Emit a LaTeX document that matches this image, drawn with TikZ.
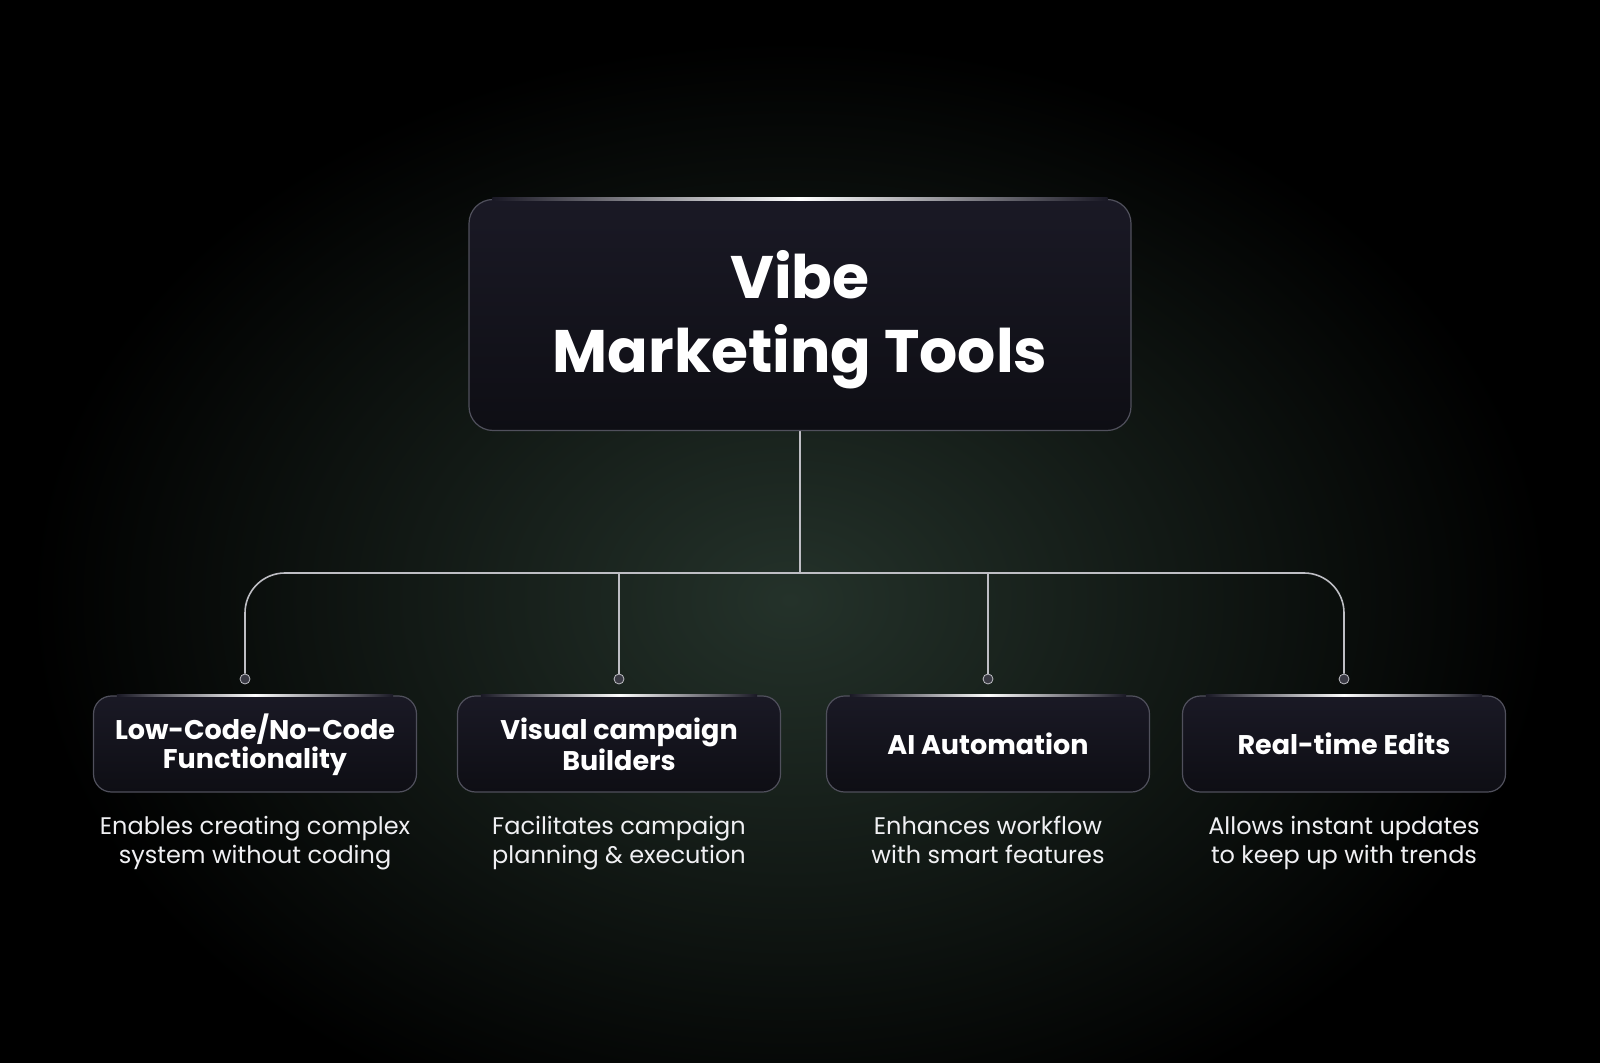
\documentclass[tikz,border=0pt]{standalone}
\usepackage{fontspec}
\setmainfont{Poppins}
\definecolor{glow}{RGB}{36,50,42}
\definecolor{boxtop}{RGB}{26,25,37}
\definecolor{boxbot}{RGB}{14,14,20}
\definecolor{edge}{RGB}{80,80,92}
\definecolor{wire}{RGB}{190,190,196}
\definecolor{desc}{RGB}{240,240,243}
\definecolor{pinfill}{RGB}{58,58,68}
\tikzset{
  card/.style={rounded corners=9pt, top color=boxtop, bottom color=boxbot, draw=edge, line width=0.6pt,
    text=white, align=center, font=\bfseries\fontsize{13.5}{14.5}\selectfont, text depth=0pt,
    minimum width=161.5pt, minimum height=48pt, inner sep=0pt},
  bigcard/.style={card, minimum width=331pt, minimum height=115.5pt, rounded corners=12pt,
    text depth=4pt, font=\bfseries\fontsize{30}{37}\selectfont},
  note/.style={text=desc, align=center, font=\fontsize{12}{14.5}\selectfont, text depth=3pt},
  wire/.style={draw=wire, line width=0.8pt},
  pin/.style={circle, fill=pinfill, draw=wire, line width=0.4pt, minimum size=5pt, inner sep=0pt},
  shine/.style={left color=boxtop, right color=boxtop, middle color=white},
}

\begin{document}
\begin{tikzpicture}[x=0.5pt, y=-0.5pt]
\useasboundingbox (0,0) rectangle (1600,1063);
\begin{scope}
\clip (0,0) rectangle (1600,1063);
\fill[black] (0,0) rectangle (1600,1063);
\shade[inner color=glow, outer color=black] (790,600) ellipse (760 and 560);
\end{scope}

\coordinate (hub) at (800,573);
\node[pin] (pinA) at (245,679) {};
\node[pin] (pinB) at (619,679) {};
\node[pin] (pinC) at (988,679) {};
\node[pin] (pinD) at (1344,679) {};

\draw[wire] (800,431) -- (hub);
\draw[wire, rounded corners=20pt] (hub) -| (pinA.north);
\draw[wire, rounded corners=20pt] (hub) -| (pinD.north);
\draw[wire] (pinB |- hub) -- (pinB.north);
\draw[wire] (pinC |- hub) -- (pinC.north);

\node[bigcard] (root) at (800,315) {Vibe\\Marketing Tools};
\node[card, text depth=3pt] (lowcode) at (255,744) {Low-Code/No-Code\\Functionality};
\node[card] (visual) at (619,744) {Visual campaign\\Builders};
\node[card] (aiauto) at (988,744) {AI Automation};
\node[card] (realtime) at (1344,744) {Real-time Edits};

\foreach \n in {root,lowcode,visual,aiauto,realtime}
  \shade[shine] ([xshift=12pt,yshift=-0.7pt]\n.north west) rectangle ([xshift=-12pt,yshift=0.7pt]\n.north east);

\node[note] (lowcodetxt) at (255,843) {Enables creating complex\\system without coding};
\node[note] (visualtxt) at (619,843) {Facilitates campaign\\planning \& execution};
\node[note] (aiautotxt) at (988,843) {Enhances workflow\\with smart features};
\node[note] (realtimetxt) at (1344,843) {Allows instant updates\\to keep up with trends};
\end{tikzpicture}
\end{document}
